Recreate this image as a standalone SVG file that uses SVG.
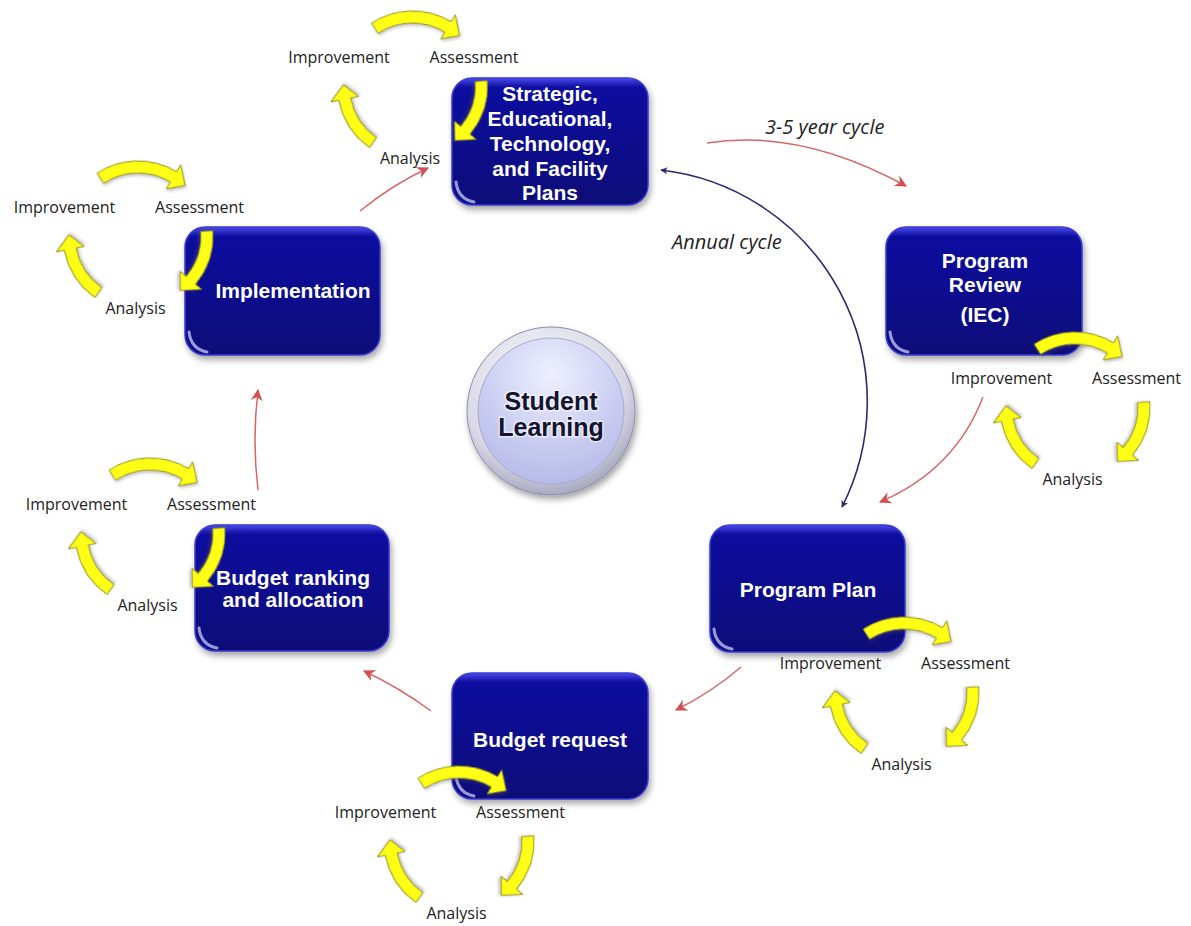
<svg xmlns="http://www.w3.org/2000/svg" width="1191" height="926" viewBox="0 0 1191 926">
<style>
.box{fill:url(#boxGrad);stroke:#3b3bd0;stroke-width:1.5;filter:url(#shadow)}
.hl{fill:none;stroke:#c8c8ff;stroke-width:3;stroke-linecap:round;opacity:.75}
.bt{font-family:"Liberation Sans",Arial,sans-serif;font-weight:bold;font-size:21px;fill:#ffffff;text-anchor:middle}
.lbl{font-family:"Open Sans","Liberation Sans",sans-serif;font-size:16px;fill:#222;text-anchor:middle}
.cyc{font-family:"Open Sans","Liberation Sans",sans-serif;font-style:italic;font-size:20px;fill:#222}
.ya{fill:#ffff14;stroke:#8f8f1a;stroke-width:1;filter:url(#yshadow)}
.red{fill:none;stroke:#d46868;stroke-width:1.5;marker-end:url(#redArrow)}
.blue{fill:none;stroke:#2a2a72;stroke-width:1.6;marker-end:url(#blueArrow);marker-start:url(#blueArrow)}
.sl{font-family:"Liberation Sans",Arial,sans-serif;font-weight:bold;font-size:25px;text-anchor:middle;fill:#14142e;stroke:#ffffff;stroke-opacity:0.55;stroke-width:3;paint-order:stroke}
</style>
<defs>
<linearGradient id="boxGrad" x1="0" y1="0" x2="0" y2="1">
<stop offset="0" stop-color="#4a4af0"/>
<stop offset="0.07" stop-color="#1010a0"/>
<stop offset="0.5" stop-color="#0a0a8e"/>
<stop offset="1" stop-color="#080878"/>
</linearGradient>
<radialGradient id="ringGrad" cx="0.45" cy="0.35" r="0.7">
<stop offset="0" stop-color="#ffffff"/>
<stop offset="0.7" stop-color="#d8d8e6"/>
<stop offset="1" stop-color="#9a9ab4"/>
</radialGradient>
<radialGradient id="innerGrad" cx="0.5" cy="0.25" r="0.8">
<stop offset="0" stop-color="#eef0ff"/>
<stop offset="0.6" stop-color="#c9ccf0"/>
<stop offset="1" stop-color="#b4b8e6"/>
</radialGradient>
<filter id="shadow" x="-20%" y="-20%" width="140%" height="150%">
<feDropShadow dx="2" dy="4" stdDeviation="3" flood-color="#000" flood-opacity="0.35"/>
</filter>
<filter id="yshadow" x="-30%" y="-30%" width="160%" height="160%">
<feDropShadow dx="1" dy="2" stdDeviation="1.5" flood-color="#555" flood-opacity="0.35"/>
</filter>
<marker id="redArrow" viewBox="0 0 12 12" refX="10" refY="6" markerWidth="13" markerHeight="13" markerUnits="userSpaceOnUse" orient="auto">
<path d="M0,0.5 L11,6 L0,11.5 L3.5,6 Z" fill="#d05050"/>
</marker>
<marker id="blueArrow" viewBox="0 0 10 10" refX="8" refY="5" markerWidth="8" markerHeight="8" markerUnits="userSpaceOnUse" orient="auto-start-reverse">
<path d="M0,0.5 L9,5 L0,9.5 L2.5,5 Z" fill="#2a2a72"/>
</marker>
<path id="yL" d="M-46.18,-59.10 A75,75 0 0 1 32.88,-67.41 L36.39,-74.60 L42.48,-54.37 L24.11,-49.43 L27.62,-56.62 A63,63 0 0 0 -38.79,-49.64 Z"/>
<path id="yS" d="M-35.21,-66.22 A75,75 0 0 1 20.67,-72.10 L22.87,-79.79 L32.40,-60.92 L15.16,-52.87 L17.36,-60.56 A63,63 0 0 0 -29.58,-55.62 Z"/>
</defs>
<rect width="1191" height="926" fill="#ffffff"/>

<g id="connectors">
<path class="red" d="M707,143 Q800,128 906,186"/>
<path class="red" d="M983,397 Q955,470 880,502"/>
<path class="red" d="M741,667 Q712,692 676,710"/>
<path class="red" d="M431,711 Q400,688 364,671"/>
<path class="red" d="M258,490 Q252,440 258,390"/>
<path class="red" d="M360,211 Q392,185 428,168"/>
<path class="blue" d="M661,170 A233,233 0 0 1 842,507"/>
<text class="cyc" x="765" y="134">3-5 year cycle</text>
<text class="cyc" x="672" y="249">Annual cycle</text>
</g>

<g id="student-learning">
<circle cx="551" cy="411" r="84" fill="url(#ringGrad)" stroke="#8c8cae" stroke-width="1" filter="url(#shadow)"/>
<circle cx="551" cy="411" r="73" fill="url(#innerGrad)" stroke="#a8aad0" stroke-width="1"/>
<text class="sl" x="551" y="410">Student</text>
<text class="sl" x="551" y="436">Learning</text>
</g>

<g id="strategic-plans">
<rect class="box" x="452" y="78" width="196" height="127" rx="20"/>
<path class="hl" d="M456,182 Q458,199 474,202"/>
<text class="bt" x="550" y="101">Strategic,</text>
<text class="bt" x="550" y="126">Educational,</text>
<text class="bt" x="550" y="151">Technology,</text>
<text class="bt" x="550" y="176">and Facility</text>
<text class="bt" x="550" y="200">Plans</text>
</g>

<g id="program-review">
<rect class="box" x="886" y="227" width="196" height="128" rx="20"/>
<path class="hl" d="M890,332 Q892,349 908,352"/>
<text class="bt" x="985" y="268">Program</text>
<text class="bt" x="985" y="292">Review</text>
<text class="bt" x="985" y="322">(IEC)</text>
</g>

<g id="program-plan">
<rect class="box" x="710" y="525" width="195" height="127" rx="20"/>
<path class="hl" d="M714,629 Q716,646 732,649"/>
<text class="bt" x="808" y="597">Program Plan</text>
</g>

<g id="budget-request">
<rect class="box" x="452" y="673" width="196" height="126" rx="20"/>
<path class="hl" d="M456,776 Q458,793 474,796"/>
<text class="bt" x="550" y="747">Budget request</text>
</g>

<g id="budget-ranking">
<rect class="box" x="195" y="525" width="194" height="126" rx="20"/>
<path class="hl" d="M199,628 Q201,645 217,648"/>
<text class="bt" x="293" y="585">Budget ranking</text>
<text class="bt" x="293" y="607">and allocation</text>
</g>

<g id="implementation">
<rect class="box" x="185" y="227" width="195" height="128" rx="20"/>
<path class="hl" d="M189,332 Q191,349 207,352"/>
<text class="bt" x="293" y="298">Implementation</text>
</g>

<g id="cycle-strategic" transform="translate(412.5,86)">
<use href="#yL" class="ya" transform="rotate(5)"/>
<use href="#yS" class="ya" transform="rotate(114)"/>
<use href="#yS" class="ya" transform="rotate(243)"/>
<text class="lbl" x="-73.5" y="-23">Improvement</text>
<text class="lbl" x="61.5" y="-23">Assessment</text>
<text class="lbl" x="-2.5" y="78">Analysis</text>
</g>

<g id="cycle-implementation" transform="translate(138,236)">
<use href="#yL" class="ya" transform="rotate(5)"/>
<use href="#yS" class="ya" transform="rotate(114)"/>
<use href="#yS" class="ya" transform="rotate(243)"/>
<text class="lbl" x="-73.5" y="-23">Improvement</text>
<text class="lbl" x="61.5" y="-23">Assessment</text>
<text class="lbl" x="-2.5" y="78">Analysis</text>
</g>

<g id="cycle-program-review" transform="translate(1075,407)">
<use href="#yL" class="ya" transform="rotate(5)"/>
<use href="#yS" class="ya" transform="rotate(114)"/>
<use href="#yS" class="ya" transform="rotate(243)"/>
<text class="lbl" x="-73.5" y="-23">Improvement</text>
<text class="lbl" x="61.5" y="-23">Assessment</text>
<text class="lbl" x="-2.5" y="78">Analysis</text>
</g>

<g id="cycle-program-plan" transform="translate(904,692)">
<use href="#yL" class="ya" transform="rotate(5)"/>
<use href="#yS" class="ya" transform="rotate(114)"/>
<use href="#yS" class="ya" transform="rotate(243)"/>
<text class="lbl" x="-73.5" y="-23">Improvement</text>
<text class="lbl" x="61.5" y="-23">Assessment</text>
<text class="lbl" x="-2.5" y="78">Analysis</text>
</g>

<g id="cycle-budget-request" transform="translate(459,841)">
<use href="#yL" class="ya" transform="rotate(5)"/>
<use href="#yS" class="ya" transform="rotate(114)"/>
<use href="#yS" class="ya" transform="rotate(243)"/>
<text class="lbl" x="-73.5" y="-23">Improvement</text>
<text class="lbl" x="61.5" y="-23">Assessment</text>
<text class="lbl" x="-2.5" y="78">Analysis</text>
</g>

<g id="cycle-budget-ranking" transform="translate(150,533)">
<use href="#yL" class="ya" transform="rotate(5)"/>
<use href="#yS" class="ya" transform="rotate(114)"/>
<use href="#yS" class="ya" transform="rotate(243)"/>
<text class="lbl" x="-73.5" y="-23">Improvement</text>
<text class="lbl" x="61.5" y="-23">Assessment</text>
<text class="lbl" x="-2.5" y="78">Analysis</text>
</g>
</svg>
